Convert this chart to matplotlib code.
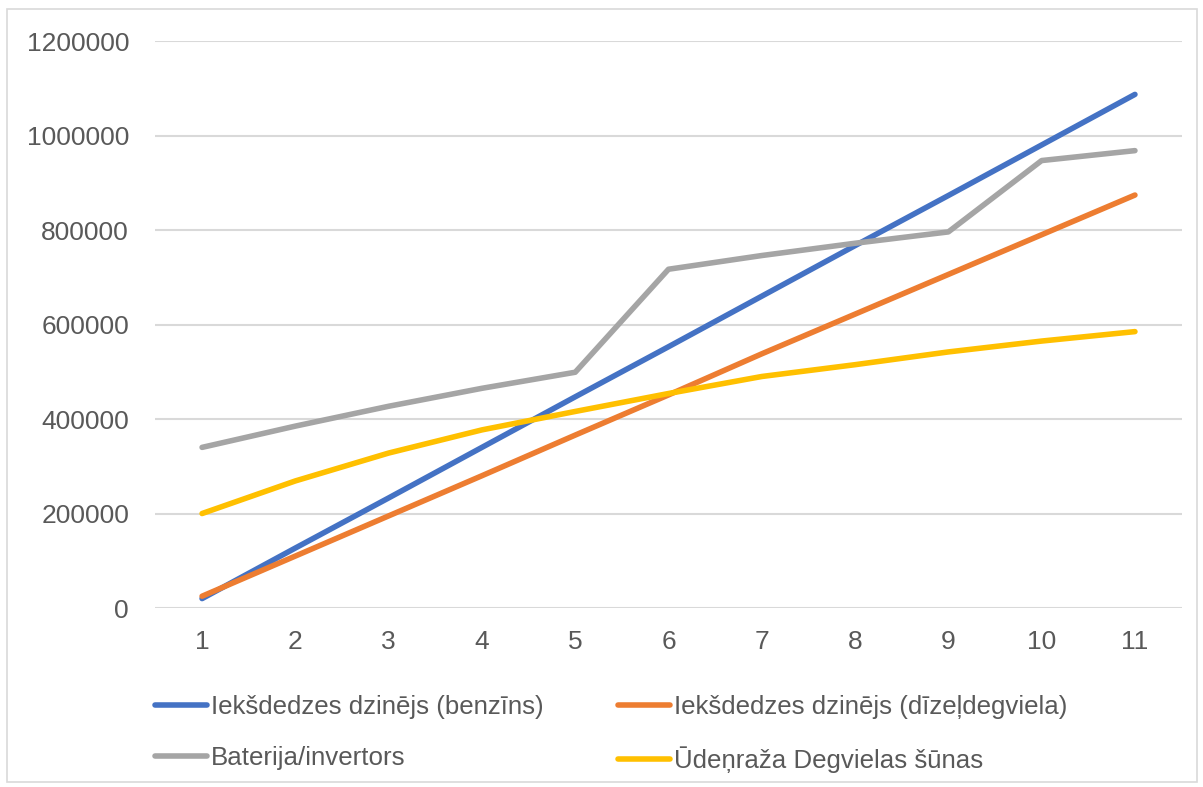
import matplotlib.pyplot as plt

# yearly cumulative costs per drive type
years = list(range(1, 12))
petrol = [20000, 127000, 233000, 340000, 447000, 553000, 660000, 767000, 873000, 980000, 1087000]
diesel = [25000, 110000, 195000, 280000, 366000, 451000, 538000, 622000, 706000, 790000, 874000]
battery = [340000, 385000, 427000, 465000, 499000, 717000, 746000, 772000, 796000, 947000, 968000]
hydrogen = [200000, 269000, 328000, 377000, 416000, 454000, 490000, 515000, 542000, 565000, 585000]

labels = ['Iekšdedzes dzinējs (benzīns)', 'Iekšdedzes dzinējs (dīzeļdegviela)',
          'Baterija/invertors', 'Ūdeņraža Degvielas šūnas']
colors = ['#4472C4', '#ED7D31', '#A5A5A5', '#FFC000']
yticks = [0, 200000, 400000, 600000, 800000, 1000000, 1200000]

plt.rcParams['font.family'] = ['Liberation Sans', 'DejaVu Sans']
text_col = '#595959'

fig = plt.figure(figsize=(12.03, 7.87), dpi=100)
ax = fig.add_axes([0.1292, 0.2274, 0.853, 0.7205])

lines = []
for series, col, lab in zip([petrol, diesel, battery, hydrogen], colors, labels):
    ln, = ax.plot(years, series, color=col, lw=4, solid_capstyle='round',
                  solid_joinstyle='round', label=lab, zorder=3)
    lines.append(ln)

ax.set_xlim(0.5, 11.5)
ax.set_ylim(0, 1200000)
ax.set_xticks(years)
ax.set_xticklabels([str(y) for y in years])
ax.set_yticks(yticks)
ax.set_yticklabels([str(v) for v in yticks])
ax.tick_params(axis='both', length=0, labelsize=19, colors=text_col)
ax.tick_params(axis='x', pad=16)
ax.tick_params(axis='y', pad=19)
ax.grid(axis='y', color='#D9D9D9', lw=1.5, zorder=0)
for s in ax.spines.values():
    s.set_visible(False)

# two-column legend: blue/orange on top row, gray/yellow below
order = [0, 2, 1, 3]
fig.legend([lines[i] for i in order], [labels[i] for i in order],
           ncol=2, loc='center left', bbox_to_anchor=(155 / 1203, 1 - 734 / 787),
           frameon=False, fontsize=18.6, handlelength=2.0, handletextpad=0.15,
           columnspacing=2.9, labelspacing=1.05, borderpad=0, borderaxespad=0,
           labelcolor=text_col)

# thin outer frame around the chart area
fig.patches.append(plt.Rectangle((7 / 1203, 5 / 787), 1190 / 1203, 773 / 787,
                                 transform=fig.transFigure, fill=False,
                                 edgecolor='#D9D9D9', lw=1.2))

fig.savefig('out.png', dpi=100)
